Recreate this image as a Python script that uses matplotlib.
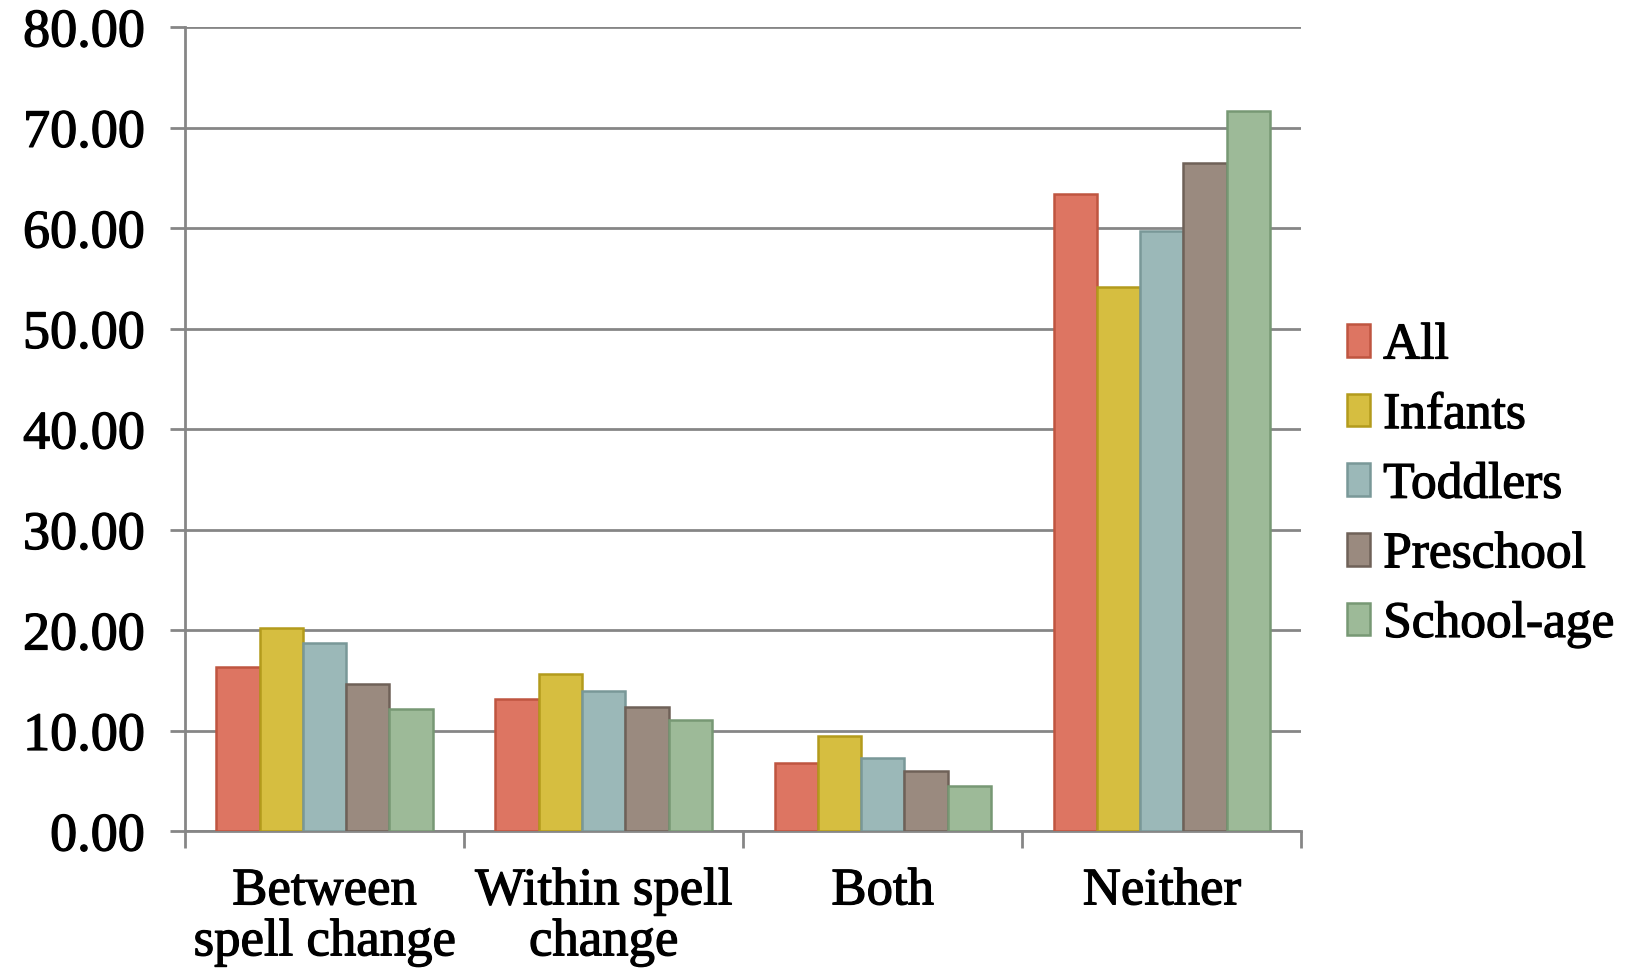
import matplotlib.pyplot as plt
import matplotlib.patheffects as pe
import numpy as np

categories = ["Between\nspell change", "Within spell\nchange", "Both", "Neither"]
groups = ["All", "Infants", "Toddlers", "Preschool", "School-age"]
all_kids = [16.3, 13.2, 6.8, 63.4]
infants = [20.2, 15.6, 9.5, 54.1]
toddlers = [18.7, 14.0, 7.3, 59.7]
preschool = [14.7, 12.4, 6.0, 66.5]
school_age = [12.2, 11.1, 4.5, 71.7]

series = [all_kids, infants, toddlers, preschool, school_age]
fills = ["#dd7562", "#d6be40", "#9bb8b8", "#9a8a7f", "#9dba98"]
edges = ["#bf5540", "#b39b1c", "#799898", "#6f6158", "#779874"]

plt.rcParams["font.family"] = ["Liberation Serif", "DejaVu Serif"]
heavy = [pe.withStroke(linewidth=0.9, foreground="black")]

fig = plt.figure(figsize=(16.37, 9.70), dpi=100)
ax = fig.add_axes([0.113, 0.142, 0.682, 0.829])

x = np.arange(len(categories))
w = 0.155
for i, (vals, fc, ec, name) in enumerate(zip(series, fills, edges, groups)):
    ax.bar(x + (i - 2) * w, vals, w, color=fc, edgecolor=ec, linewidth=1.8,
           label=name, zorder=3)

ax.set_xlim(-0.5, len(categories) - 0.5)
ax.set_ylim(0, 80)
ax.set_yticks(np.arange(0, 81, 10))
ax.set_yticklabels(["%.2f" % v for v in np.arange(0, 81, 10)])
ax.yaxis.grid(True, color="#868686", linewidth=2, zorder=0)

# category ticks sit on the group boundaries
ax.set_xticks(np.arange(-0.5, len(categories)), minor=False)
ax.set_xticklabels([])
ax.set_xticks(x, minor=True)
ax.set_xticklabels(categories, minor=True, fontsize=38, linespacing=1.08)
ax.tick_params(axis="x", which="minor", length=0, pad=26)
ax.tick_params(axis="x", which="major", length=12, width=2, color="#868686")
ax.tick_params(axis="y", length=11, width=2, color="#868686", labelsize=39, pad=18)

for lbl in ax.get_yticklabels() + ax.get_xticklabels(minor=True):
    lbl.set_path_effects(heavy)

for s in ["top", "right"]:
    ax.spines[s].set_visible(False)
for s in ["left", "bottom"]:
    ax.spines[s].set_color("#868686")
    ax.spines[s].set_linewidth(2)

leg = ax.legend(loc="center left", bbox_to_anchor=(0.995, 0.43), frameon=False,
                fontsize=37, handlelength=0.45, handleheight=0.6, handletextpad=0.25,
                labelspacing=0.45, borderaxespad=0.6)
for t in leg.get_texts():
    t.set_path_effects(heavy)

fig.savefig("out.png", dpi=100)
